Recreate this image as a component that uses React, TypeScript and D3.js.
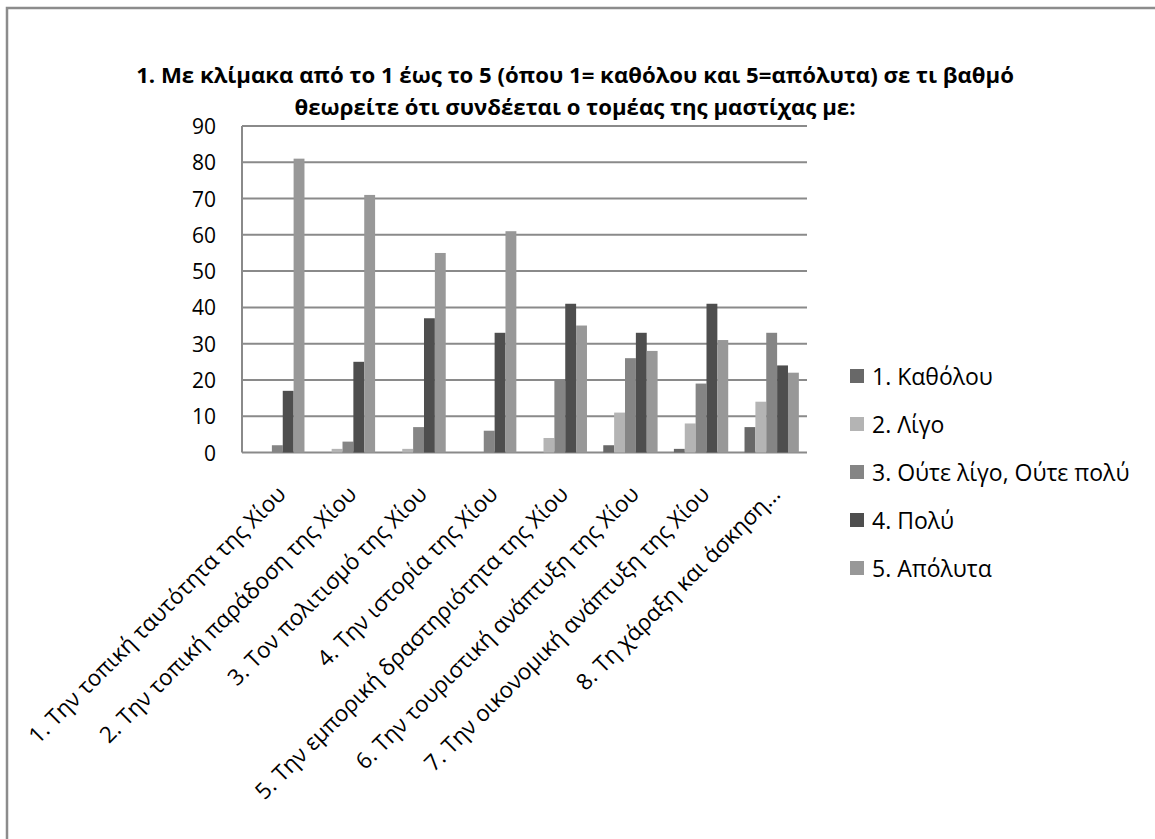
import * as d3 from "d3";

const categories = [
  "1. Την τοπική ταυτότητα της Χίου",
  "2. Την τοπική παράδοση της Χίου",
  "3. Τον πολιτισμό της Χίου",
  "4. Την ιστορία της Χίου",
  "5. Την εμπορική δραστηριότητα της Χίου",
  "6. Την τουριστική ανάπτυξη της Χίου",
  "7. Την οικονομική ανάπτυξη της Χίου",
  "8. Τη χάραξη και άσκηση…",
];

const seriesNames = [
  "1. Καθόλου",
  "2. Λίγο",
  "3. Ούτε λίγο, Ούτε πολύ",
  "4. Πολύ",
  "5. Απόλυτα",
];

const katholou = [0, 0, 0, 0, 0, 2, 1, 7];
const ligo = [0, 1, 1, 0, 4, 11, 8, 14];
const oute = [2, 3, 7, 6, 20, 26, 19, 33];
const poly = [17, 25, 37, 33, 41, 33, 41, 24];
const apolyta = [81, 71, 55, 61, 35, 28, 31, 22];

const seriesValues = [katholou, ligo, oute, poly, apolyta];
const seriesColors = ["#686868", "#b4b4b4", "#858585", "#4e4e4e", "#989898"];

const yTicks = [0, 10, 20, 30, 40, 50, 60, 70, 80, 90];

const titleLines = [
  "1. Με κλίμακα από το 1 έως το 5 (όπου 1= καθόλου και 5=απόλυτα) σε τι βαθμό",
  "θεωρείτε ότι συνδέεται ο τομέας της μαστίχας με:",
];

const W = 1155;
const H = 839;
const PLOT = { left: 242, right: 807, top: 126, bottom: 452.5 };
const FONT = "'Open Sans', sans-serif";
const GRID = "#8a8a8a";

export default function App() {
  const x = d3
    .scaleBand<string>()
    .domain(categories)
    .range([PLOT.left, PLOT.right])
    .padding(0);

  const xInner = d3
    .scaleBand<number>()
    .domain(d3.range(seriesNames.length))
    .range([0, x.bandwidth()])
    .paddingInner(0)
    .paddingOuter(0.75);

  const y = d3.scaleLinear().domain([0, 90]).range([PLOT.bottom, PLOT.top]);

  return (
    <svg
      width={W}
      height={H}
      style={{ position: "absolute", left: 0, top: 0, background: "#fff" }}
      fontFamily={FONT}
    >
      {/* chart frame (cropped at right/bottom) */}
      <path d={`M7,${H + 5} V8 H${W + 5}`} fill="none" stroke="#8c8c8c" strokeWidth={2.5} />

      {titleLines.map((t, i) => (
        <text
          key={i}
          x={575}
          y={83 + i * 32}
          textAnchor="middle"
          fontWeight="bold"
          fontSize={22.2}
          fill="#000"
        >
          {t}
        </text>
      ))}

      {/* gridlines + y ticks */}
      {yTicks.map((t) => (
        <g key={t}>
          <line
            x1={PLOT.left}
            x2={PLOT.right}
            y1={y(t)}
            y2={y(t)}
            stroke={GRID}
            strokeWidth={2}
          />
          <text
            x={216}
            y={y(t)}
            textAnchor="end"
            dominantBaseline="central"
            fontSize={21}
            fill="#000"
          >
            {t}
          </text>
        </g>
      ))}
      <line
        x1={PLOT.left}
        x2={PLOT.left}
        y1={PLOT.top}
        y2={PLOT.bottom}
        stroke={GRID}
        strokeWidth={2}
      />

      {/* bars */}
      {categories.map((c, ci) => (
        <g key={c} transform={`translate(${x(c)},0)`}>
          {seriesValues.map((vals, si) => (
            <rect
              key={si}
              x={xInner(si)}
              y={y(vals[ci])}
              width={xInner.bandwidth()}
              height={y(0) - y(vals[ci])}
              fill={seriesColors[si]}
            />
          ))}
        </g>
      ))}

      {/* category labels */}
      {categories.map((c) => {
        const cx = (x(c) ?? 0) + x.bandwidth() / 2;
        return (
          <text
            key={c}
            transform={`translate(${cx + 4},${PLOT.bottom + 37}) rotate(-45)`}
            textAnchor="end"
            dominantBaseline="central"
            fontSize={22.5}
            fill="#000"
          >
            {c}
          </text>
        );
      })}

      {/* legend */}
      {seriesNames.map((s, i) => (
        <g key={s} transform={`translate(850,${376 + i * 48})`}>
          <rect x={0} y={-7} width={14} height={14} fill={seriesColors[i]} />
          <text x={22} y={0} dominantBaseline="central" fontSize={23} fill="#000">
            {s}
          </text>
        </g>
      ))}
    </svg>
  );
}
